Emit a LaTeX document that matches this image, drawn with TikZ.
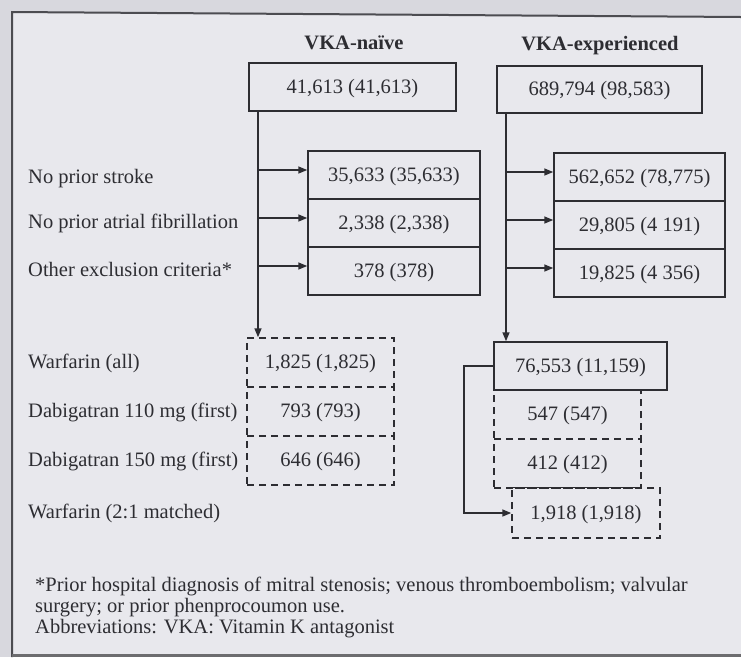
\documentclass[tikz,border=0pt]{standalone}
\usepackage{fontspec}
\setmainfont{Liberation Serif}
\usetikzlibrary{arrows.meta,calc}
\definecolor{bgout}{RGB}{216,216,222}
\definecolor{bgin}{RGB}{232,232,237}
\definecolor{ink}{RGB}{45,45,50}
\begin{document}
\begin{tikzpicture}[x=1pt,y=-1pt,
  every node/.style={font=\fontsize{20.5}{22}\selectfont, text=ink, inner sep=0pt},
  cell/.style={draw=ink, line width=1.5pt, minimum height=48pt, text height=15pt, text depth=3pt},
  dcell/.style={cell, dash pattern=on 7pt off 5pt},
  lbl/.style={anchor=west, text height=15pt, text depth=3pt},
  hdr/.style={font=\fontsize{20.5}{22}\selectfont\bfseries, text height=15pt, text depth=3pt},
  arr/.style={draw=ink, line width=1.5pt, -{Triangle[length=9pt,width=7pt]}},
  seg/.style={draw=ink, line width=1.5pt},
]
\useasboundingbox (0,0) rectangle (741,657);
\fill[bgout] (0,0) rectangle (741,657);
\fill[bgin] (12,12) -- (741,17) -- (741,655) -- (12,655) -- cycle;
\draw[ink!85, line width=2pt] (12,657) -- (12,12) -- (741,17);
\draw[ink!70, line width=3pt] (12,655) -- (741,655);

% headers
\node[hdr] (hn) at (354,43) {VKA-naïve};
\node[hdr] (he) at (600,44) {VKA-experienced};

% top boxes
\node[cell, minimum width=207pt] (na) at (352.5,87) {41,613 (41,613)};
\node[cell, minimum width=205pt, minimum height=47pt] (ea) at (599.5,89.5) {689,794 (98,583)};

% middle stacks
\node[cell, minimum width=172pt] (n1) at (394,175) {35,633 (35,633)};
\node[cell, minimum width=172pt] (n2) at (394,223) {2,338 (2,338)};
\node[cell, minimum width=172pt] (n3) at (394,271) {378 (378)};
\node[cell, minimum width=171pt] (e1) at (639.5,177) {562,652 (78,775)};
\node[cell, minimum width=171pt] (e2) at (639.5,225) {29,805 (4 191)};
\node[cell, minimum width=171pt] (e3) at (639.5,273) {19,825 (4 356)};

% left labels
\node[lbl] (t1) at (28,177) {No prior stroke};
\node[lbl] (t2) at (28,222) {No prior atrial fibrillation};
\node[lbl] (t3) at (28,270) {Other exclusion criteria*};
\node[lbl] (t4) at (28,362) {Warfarin (all)};
\node[lbl] (t5) at (28,411) {Dabigatran 110 mg (first)};
\node[lbl] (t6) at (28,460) {Dabigatran 150 mg (first)};
\node[lbl] (t7) at (28,512) {Warfarin (2:1 matched)};

% lower left dashed stack
\node[dcell, minimum width=147pt, minimum height=49pt] (l1) at (320.5,362.5) {1,825 (1,825)};
\node[dcell, minimum width=147pt, minimum height=49pt] (l2) at (320.5,411.5) {793 (793)};
\node[dcell, minimum width=147pt, minimum height=49pt] (l3) at (320.5,460.5) {646 (646)};

% lower right
\node[dcell, minimum width=147pt, minimum height=49pt] (w2) at (567.5,414.5) {547 (547)};
\node[dcell, minimum width=147pt, minimum height=49pt] (w3) at (567.5,463.5) {412 (412)};
\node[dcell, minimum width=148pt, minimum height=50pt] (w4) at (586,513) {1,918 (1,918)};
\node[cell, minimum width=173pt, minimum height=48pt, fill=bgin] (w1) at (580.5,366) {76,553 (11,159)};
\draw[seg] ([xshift=-5pt]w4.north west) -- (w4.north west -| w3.east);

% connectors
\coordinate (lx) at (258,0);
\coordinate (rx) at (506,0);
\coordinate (cx) at (464,0);
\draw[arr] (lx |- na.south) -- (lx |- l1.north);
\draw[arr] (rx |- ea.south) -- (rx |- w1.north);
\foreach \n in {n1,n2,n3}{
  \coordinate (p) at ([yshift=5pt]\n.west);
  \draw[arr] (p -| lx) -- (p);
}
\foreach \n in {e1,e2,e3}{
  \coordinate (p) at ([yshift=5pt]\n.west);
  \draw[arr] (p -| rx) -- (p);
}
\draw[arr] (w1.west) -- (w1.west -| cx) -- (cx |- w4.west) -- (w4.west);

% footnote
\node[lbl] (f1) at (35,585) {*Prior hospital diagnosis of mitral stenosis; venous thromboembolism; valvular};
\node[lbl] (f2) at (35,606) {surgery; or prior phenprocoumon use.};
\node[lbl] (f3) at (35,627) {Abbreviations: VKA: Vitamin K antagonist};
\end{tikzpicture}
\end{document}
